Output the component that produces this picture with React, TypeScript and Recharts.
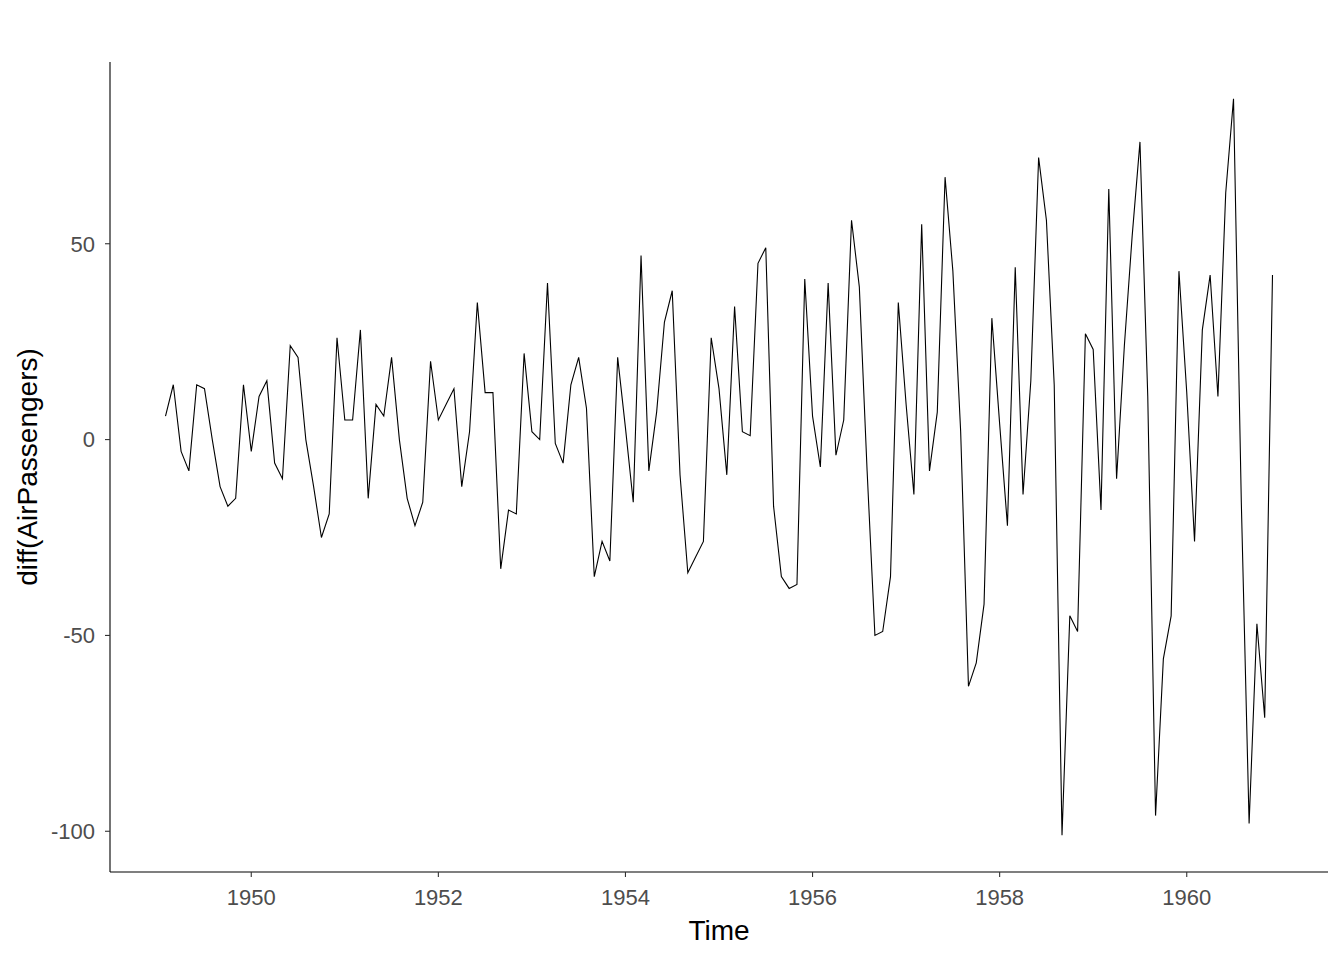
import React from "react";
import { LineChart, Line, XAxis, YAxis, Label } from "recharts";

// diff(AirPassengers), monthly from Feb 1949 to Dec 1960
const startYear = 1949;
const startMonthIndex = 1; // February
const diffValues: number[] = [
  6, 14, -3, -8, 14, 13, 0, -12, -17, -15, 14,
  -3, 11, 15, -6, -10, 24, 21, 0, -12, -25, -19, 26,
  5, 5, 28, -15, 9, 6, 21, 0, -15, -22, -16, 20,
  5, 9, 13, -12, 2, 35, 12, 12, -33, -18, -19, 22,
  2, 0, 40, -1, -6, 14, 21, 8, -35, -26, -31, 21,
  3, -16, 47, -8, 7, 30, 38, -9, -34, -30, -26, 26,
  13, -9, 34, 2, 1, 45, 49, -17, -35, -38, -37, 41,
  6, -7, 40, -4, 5, 56, 39, -8, -50, -49, -35, 35,
  9, -14, 55, -8, 7, 67, 43, 2, -63, -57, -42, 31,
  4, -22, 44, -14, 15, 72, 56, 14, -101, -45, -49, 27,
  23, -18, 64, -10, 24, 52, 76, 11, -96, -56, -45, 43,
  12, -26, 28, 42, 11, 63, 87, -16, -98, -47, -71, 42,
];
const xTicks: number[] = [1950, 1952, 1954, 1956, 1958, 1960];
const yTicks: number[] = [-100, -50, 0, 50];

const data = diffValues.map((v, i) => ({
  t: startYear + (startMonthIndex + i) / 12,
  value: v,
}));

const fontFamily = "Liberation Sans, Arial, sans-serif";
const tickStyle = { fill: "#4d4d4d", fontSize: 22, fontFamily };

export default function App() {
  return (
    <div style={{ position: "absolute", left: 0, top: 0, width: 1344, height: 960, background: "#fff" }}>
      <LineChart
        width={1344}
        height={960}
        data={data}
        margin={{ top: 62, right: 16, bottom: 0, left: 10 }}
      >
        <XAxis
          dataKey="t"
          type="number"
          domain={[1948.49, 1961.51]}
          ticks={xTicks}
          allowDataOverflow
          height={88}
          axisLine={{ stroke: "#000", strokeWidth: 1.1 }}
          tickLine={{ stroke: "#333", strokeWidth: 1.1 }}
          tickSize={5}
          tickMargin={12}
          tick={tickStyle}
        >
          <Label
            value="Time"
            position="insideBottom"
            offset={20}
            style={{ fill: "#000", fontSize: 28, fontFamily }}
          />
        </XAxis>
        <YAxis
          type="number"
          domain={[-110.4, 96.4]}
          ticks={yTicks}
          allowDataOverflow
          width={100}
          axisLine={{ stroke: "#000", strokeWidth: 1.1 }}
          tickLine={{ stroke: "#333", strokeWidth: 1.1 }}
          tickSize={5}
          tickMargin={10}
          tick={tickStyle}
        >
          <Label
            value="diff(AirPassengers)"
            angle={-90}
            position="insideLeft"
            offset={17}
            style={{ fill: "#000", fontSize: 28, fontFamily, textAnchor: "middle" }}
          />
        </YAxis>
        <Line
          type="linear"
          dataKey="value"
          stroke="#000"
          strokeWidth={1.1}
          dot={false}
          isAnimationActive={false}
        />
      </LineChart>
    </div>
  );
}
